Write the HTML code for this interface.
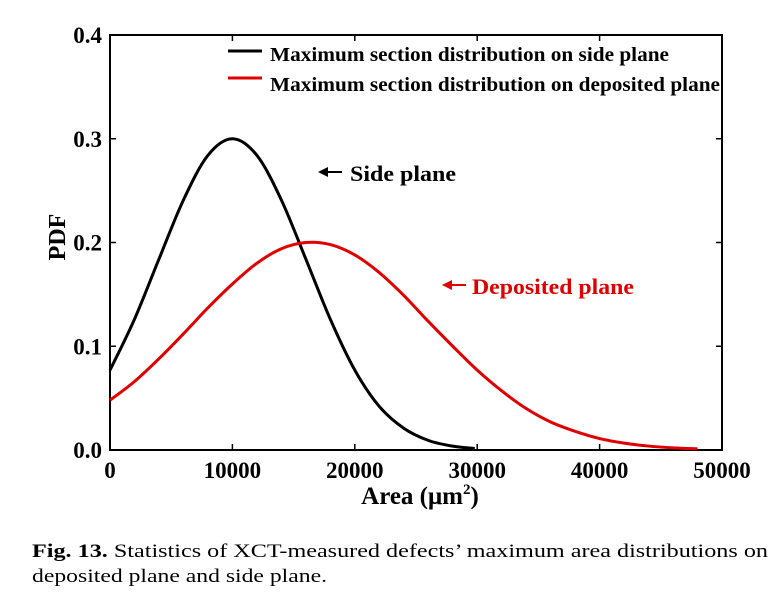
<!DOCTYPE html>
<html><head><meta charset="utf-8"><style>
html,body{margin:0;padding:0;background:#fff;}
svg{display:block;font-family:"Liberation Serif",serif;}
</style></head><body>
<svg id="chart" width="773" height="597" viewBox="0 0 773 597">
<g id="axes"></g>
<g id="series"></g>
<g>
  <line x1="228" y1="51" x2="262" y2="51" stroke="#000" stroke-width="3"/>
  <text x="270" y="61" font-size="20" font-weight="bold" textLength="399" lengthAdjust="spacingAndGlyphs">Maximum section distribution on side plane</text>
  <line x1="228" y1="78" x2="262" y2="78" stroke="#e00000" stroke-width="3"/>
  <text x="270" y="91" font-size="20" font-weight="bold" textLength="450" lengthAdjust="spacingAndGlyphs">Maximum section distribution on deposited plane</text>
</g>
<g>
  <line x1="322" y1="172" x2="342" y2="172" stroke="#000" stroke-width="2"/>
  <polygon points="318,172 328,167 328,177" fill="#000"/>
  <text x="350" y="181" font-size="22" font-weight="bold" textLength="106" lengthAdjust="spacingAndGlyphs">Side plane</text>
</g>
<g>
  <line x1="446" y1="285" x2="466" y2="285" stroke="#e00000" stroke-width="2"/>
  <polygon points="442,285 452,280 452,290" fill="#e00000"/>
  <text x="472" y="294" font-size="22" font-weight="bold" fill="#e00000" textLength="162" lengthAdjust="spacingAndGlyphs">Deposited plane</text>
</g>
<text x="65" y="237" font-size="24" font-weight="bold" text-anchor="middle" transform="rotate(-90 65 237)">PDF</text>
<text x="420" y="504" font-size="25" font-weight="bold" text-anchor="middle">Area (μm<tspan font-size="15" dy="-10">2</tspan><tspan dy="10">)</tspan></text>
<text x="32" y="557" font-size="19" textLength="736" lengthAdjust="spacingAndGlyphs"><tspan font-weight="bold">Fig. 13.</tspan> Statistics of XCT-measured defects’ maximum area distributions on</text>
<text x="32" y="582" font-size="19" textLength="295" lengthAdjust="spacingAndGlyphs">deposited plane and side plane.</text>
</svg>
<script>
const xTicks = [0, 10000, 20000, 30000, 40000, 50000];
const yTicks = [0.0, 0.1, 0.2, 0.3, 0.4];
const yTickLabels = ["0.0", "0.1", "0.2", "0.3", "0.4"];
const sideX = [0,2000,4000,6000,8000,10000,12000,14000,16000,18000,20000,22000,24000,26000,28000,29800];
const sideY = [0.077,0.126,0.184,0.241,0.284,0.300,0.284,0.241,0.184,0.126,0.077,0.042,0.021,0.0093,0.0037,0.0015];
const depX = [0,2000,4000,6000,8000,10000,12000,14000,16000,18000,20000,22000,24000,26000,28000,30000,32000,34000,36000,38000,40000,42000,44000,46000,48000];
const depY = [0.048,0.066,0.088,0.112,0.137,0.160,0.180,0.194,0.200,0.198,0.188,0.171,0.149,0.124,0.100,0.077,0.057,0.040,0.027,0.018,0.011,0.0066,0.0038,0.0021,0.0011];

const L=110,R=722,T=35,B=450;
function sx(v){return L+(v-0)/(50000-0)*(R-L);}
function sy(v){return B-(v-0)/(0.4-0)*(B-T);}
const NS="http://www.w3.org/2000/svg";
const axes=document.getElementById('axes');
function mk(tag,attrs,parent){const e=document.createElementNS(NS,tag);for(const k in attrs)e.setAttribute(k,attrs[k]);parent.appendChild(e);return e;}

const frame=mk('rect',{x:L,y:T,width:R-L,height:B-T,fill:'none',stroke:'#000','stroke-width':2},axes);



xTicks.forEach((v,i)=>{
  const t=mk('line',{x1:sx(v),x2:sx(v),y1:B,y2:B-6,stroke:'#000','stroke-width':1.5},axes);
  
  
  const tt=mk('line',{x1:sx(v),x2:sx(v),y1:T,y2:T+6,stroke:'#000','stroke-width':1.5},axes);
  
  
  const lb=mk('text',{x:sx(v),y:B+28,'font-size':23,'font-weight':'bold','text-anchor':'middle'},axes);
  lb.textContent=String(v);
  
  
});
yTicks.forEach((v,i)=>{
  const t=mk('line',{x1:L,x2:L+6,y1:sy(v),y2:sy(v),stroke:'#000','stroke-width':1.5},axes);
  
  
  const tr=mk('line',{x1:R,x2:R-6,y1:sy(v),y2:sy(v),stroke:'#000','stroke-width':1.5},axes);
  
  
  const lb=mk('text',{x:L-8,y:sy(v)+8,'font-size':23,'font-weight':'bold','text-anchor':'end'},axes);
  lb.textContent=yTickLabels[i];
  
  
});

function smoothPath(xs,ys){
  const p=xs.map((x,i)=>[sx(x),sy(ys[i])]);
  let d='M'+p[0][0]+','+p[0][1];
  for(let i=0;i<p.length-1;i++){
    const p0=p[i-1]||p[i],p1=p[i],p2=p[i+1],p3=p[i+2]||p[i+1];
    const c1=[p1[0]+(p2[0]-p0[0])/6,p1[1]+(p2[1]-p0[1])/6];
    const c2=[p2[0]-(p3[0]-p1[0])/6,p2[1]-(p3[1]-p1[1])/6];
    d+=' C'+c1[0]+','+c1[1]+' '+c2[0]+','+c2[1]+' '+p2[0]+','+p2[1];
  }
  return d;
}
const series=document.getElementById('series');
const side=mk('path',{d:smoothPath(sideX,sideY),fill:'none',stroke:'#000','stroke-width':3},series);


const dep=mk('path',{d:smoothPath(depX,depY),fill:'none',stroke:'#e00000','stroke-width':3},series);


</script>
</body></html>
